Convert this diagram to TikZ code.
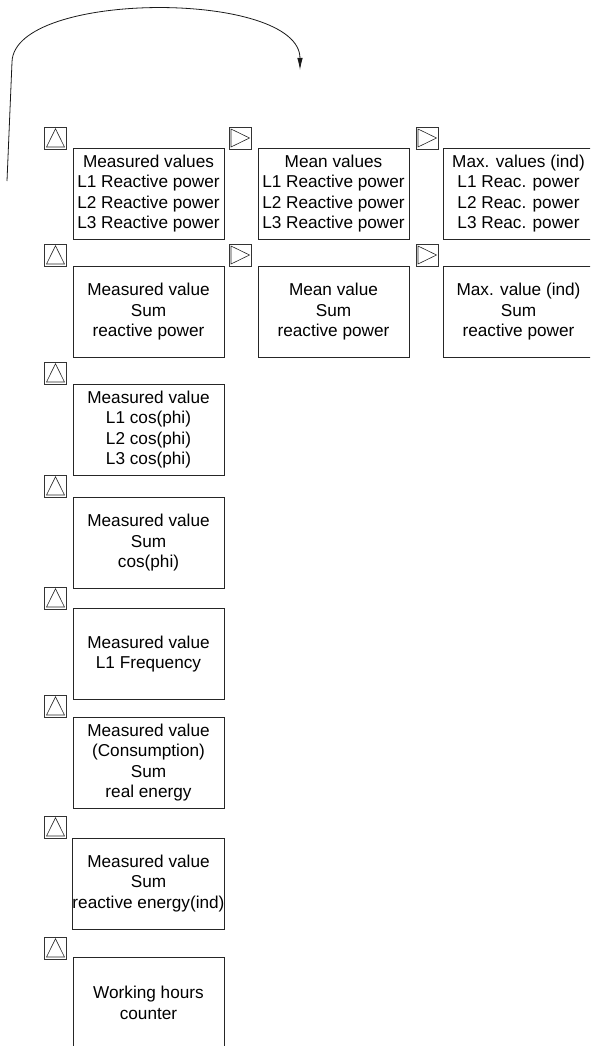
\documentclass[tikz,border=0pt]{standalone}
\usepackage{fontspec}
\setmainfont{Liberation Sans}
\usetikzlibrary{arrows.meta}
\tikzset{
  box/.style={draw=black!85, line width=0.8pt, minimum width=151pt, minimum height=91pt,
    inner sep=0pt, outer sep=0pt, align=center, font=\fontsize{17.2}{20.5}\selectfont},
  btn/.style={draw=black!80, line width=0.7pt, minimum size=22pt, inner sep=0pt, outer sep=0pt},
  upbtn/.style={btn, path picture={
    \draw[line width=0.6pt, black!85]
      ([yshift=-1.8pt]path picture bounding box.north)
      -- ([xshift=2pt,yshift=2pt]path picture bounding box.south west)
      -- ([xshift=-2pt,yshift=2pt]path picture bounding box.south east) -- cycle;}},
  rightbtn/.style={btn, path picture={
    \draw[line width=0.6pt, black!85]
      ([xshift=-1.5pt]path picture bounding box.east)
      -- ([xshift=2pt,yshift=-2pt]path picture bounding box.north west)
      -- ([xshift=2pt,yshift=2pt]path picture bounding box.south west) -- cycle;}},
  loop/.style={line width=0.8pt, black!90, -{Latex[length=12pt,width=5.5pt]}}
}
\begin{document}
\begin{tikzpicture}[x=1pt,y=-1pt]
\useasboundingbox (0,0) rectangle (590,1046);
\clip (0,0) rectangle (590,1046);

% buttons
\node[upbtn] (b1) at (55.5,138) {};
\node[upbtn] (b2) at (55.5,255) {};
\node[upbtn] (b3) at (55.5,373) {};
\node[upbtn] (b4) at (55.5,486) {};
\node[upbtn] (b5) at (55.5,598) {};
\node[upbtn] (b6) at (55.5,706) {};
\node[upbtn] (b7) at (55.5,827) {};
\node[upbtn] (b8) at (55.5,948) {};
\node[rightbtn] (m1b) at (240,138) {};
\node[rightbtn] (m2b) at (240,255) {};
\node[rightbtn] (x1b) at (427,138) {};
\node[rightbtn] (x2b) at (427,255) {};

% boxes
\node[box] (r1) at (148.5,193.5) {Measured values\\L1 Reactive power\\L2 Reactive power\\L3 Reactive power};
\node[box] (r2) at (148.5,312) {Measured value\\Sum\\reactive power};
\node[box] (r3) at (148.5,429.5) {Measured value\\L1 cos(phi)\\L2 cos(phi)\\L3 cos(phi)};
\node[box] (r4) at (148.5,543) {Measured value\\Sum\\cos(phi)};
\node[box] (r5) at (148.5,654) {Measured value\\L1 Frequency};
\node[box] (r6) at (148.5,762.5) {Measured value\\(Consumption)\\Sum\\real energy};
\node[box] (r7) at (148.5,883.5) {Measured value\\Sum\\reactive energy(ind)};
\node[box] (r8) at (148.5,1003) {Working hours\\counter};
\node[box] (m1) at (333.5,193.5) {Mean values\\L1 Reactive power\\L2 Reactive power\\L3 Reactive power};
\node[box] (m2) at (333.5,312) {Mean value\\Sum\\reactive power};
\node[box] (x1) at (518.5,193.5) {Max. values (ind)\\L1 Reac. power\\L2 Reac. power\\L3 Reac. power};
\node[box] (x2) at (518.5,312) {Max. value (ind)\\Sum\\reactive power};

% loop arrow
\coordinate (ls) at (7,181);
\coordinate (lk) at (12,62);
\coordinate (lt) at (300,70);
\draw[loop] (ls) -- (lk) .. controls (14,-10) and (300,-10) .. (lt);
\end{tikzpicture}
\end{document}
